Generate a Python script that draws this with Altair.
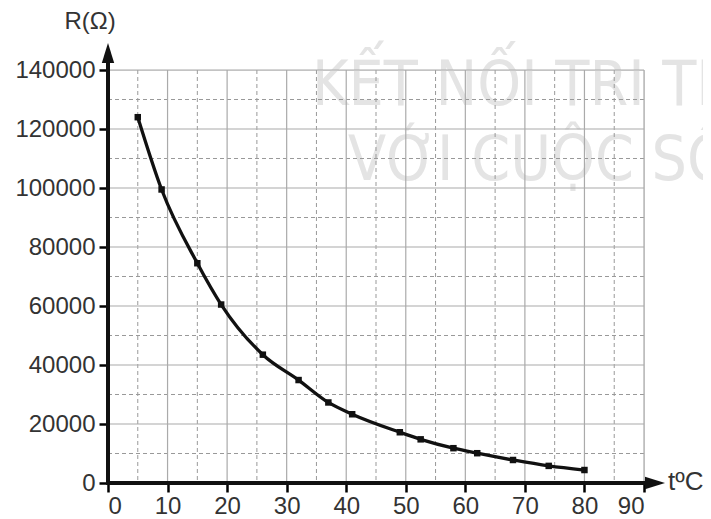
import altair as alt
import pandas as pd

# Data
temperature = [5, 9, 15, 19, 26, 32, 37, 41, 49, 52.5, 58, 62, 68, 74, 80]
resistance = [124000, 99500, 74500, 60500, 43500, 34900, 27300, 23300,
              17200, 14800, 11800, 10100, 7800, 5800, 4400]

x_ticks = [0, 10, 20, 30, 40, 50, 60, 70, 80, 90]
y_ticks = [0, 20000, 40000, 60000, 80000, 100000, 120000, 140000]
x_major_grid = [10, 20, 30, 40, 50, 60, 70, 80, 90]
x_minor_grid = [5, 15, 25, 35, 45, 55, 65, 75, 85]
y_major_grid = [20000, 40000, 60000, 80000, 100000, 120000, 140000]
y_minor_grid = [10000, 30000, 50000, 70000, 90000, 110000, 130000]

watermark_lines = ["KẾT NỐI TRI THỨC", "VỚI CUỘC SỐNG"]

W, H = 536, 413
FONT = "Liberation Sans"
WM_FONT = "'DejaVu Sans Condensed', 'Liberation Sans Narrow', 'Liberation Sans', sans-serif"

xs = alt.Scale(domain=[0, 90], nice=False, zero=False)
ys = alt.Scale(domain=[0, 140000], nice=False, zero=False)

df = pd.DataFrame({"t": temperature, "R": resistance})

# watermark
wm1 = alt.Chart(pd.DataFrame({"s": [watermark_lines[0]]})).mark_text(
    font=WM_FONT, fontSize=62, color="#e4e4e4",
    align="left", baseline="alphabetic"
).encode(x=alt.value(204), y=alt.value(35), text="s:N")
wm2 = alt.Chart(pd.DataFrame({"s": [watermark_lines[1]]})).mark_text(
    font=WM_FONT, fontSize=62, color="#e4e4e4",
    align="left", baseline="alphabetic"
).encode(x=alt.value(240), y=alt.value(110), text="s:N")

# grid
vmin = alt.Chart(pd.DataFrame({"x": x_minor_grid})).mark_rule(
    color="#999999", strokeWidth=1, strokeDash=[4, 3]
).encode(x=alt.X("x:Q", scale=xs), y=alt.value(0), y2=alt.value(H))
hmin = alt.Chart(pd.DataFrame({"y": y_minor_grid})).mark_rule(
    color="#999999", strokeWidth=1, strokeDash=[4, 3]
).encode(y=alt.Y("y:Q", scale=ys), x=alt.value(0), x2=alt.value(W))
vmaj = alt.Chart(pd.DataFrame({"x": x_major_grid})).mark_rule(
    color="#aaaaaa", strokeWidth=1.2
).encode(x=alt.X("x:Q", scale=xs), y=alt.value(0), y2=alt.value(H))
hmaj = alt.Chart(pd.DataFrame({"y": y_major_grid})).mark_rule(
    color="#aaaaaa", strokeWidth=1.2
).encode(y=alt.Y("y:Q", scale=ys), x=alt.value(0), x2=alt.value(W))

xaxis = alt.Axis(values=x_ticks, grid=False, domain=False, tickColor="black",
                 tickWidth=2.5, tickSize=9, labelFont=FONT, labelFontSize=24,
                 labelColor="#333333", labelPadding=2, title=None)
yaxis = alt.Axis(values=y_ticks, grid=False, domain=False, tickColor="black",
                 tickWidth=2.5, tickSize=9, labelFont=FONT, labelFontSize=24,
                 labelColor="#333333", labelPadding=4, title=None, format="d")

line = alt.Chart(df).mark_line(
    color="#111111", strokeWidth=3.3, interpolate="monotone"
).encode(
    x=alt.X("t:Q", scale=xs, axis=xaxis),
    y=alt.Y("R:Q", scale=ys, axis=yaxis),
)
pts = alt.Chart(df).mark_point(
    shape="square", filled=True, color="#111111", size=42, opacity=1
).encode(x=alt.X("t:Q", scale=xs), y=alt.Y("R:Q", scale=ys))

# axis lines with arrows
one = pd.DataFrame({"a": [0]})
xline = alt.Chart(one).mark_rule(color="#111111", strokeWidth=4).encode(
    x=alt.value(-2), x2=alt.value(W + 12), y=alt.value(H))
yline = alt.Chart(one).mark_rule(color="#111111", strokeWidth=4).encode(
    y=alt.value(H + 2), y2=alt.value(-16), x=alt.value(0))
xarrow = alt.Chart(one).mark_point(
    shape="M-1,-0.62L1,0L-1,0.62Z", filled=True, color="#111111", size=400, opacity=1
).encode(x=alt.value(W + 11), y=alt.value(H))
yarrow = alt.Chart(one).mark_point(
    shape="M-0.62,1L0,-1L0.62,1Z", filled=True, color="#111111", size=400, opacity=1
).encode(x=alt.value(0), y=alt.value(-17))

ytitle = alt.Chart(pd.DataFrame({"s": ["R(Ω)"]})).mark_text(
    font=FONT, fontSize=24, color="#333333", align="center", baseline="middle"
).encode(x=alt.value(-18), y=alt.value(-48), text="s:N")
xtitle = alt.Chart(pd.DataFrame({"s": ["tºC"]})).mark_text(
    font=FONT, fontSize=26, color="#333333", align="left", baseline="middle"
).encode(x=alt.value(W + 24), y=alt.value(H - 1), text="s:N")

chart = alt.layer(
    wm1, wm2, vmin, hmin, vmaj, hmaj, line, pts,
    xline, yline, xarrow, yarrow, ytitle, xtitle
).properties(
    width=W, height=H,
    autosize=alt.AutoSizeParams(type="none"),
    padding={"left": 100, "top": 62, "right": 59, "bottom": 36},
).configure_view(stroke=None).configure(background="white")

chart.save("out.html", embed_options={"renderer": "svg", "actions": False})
